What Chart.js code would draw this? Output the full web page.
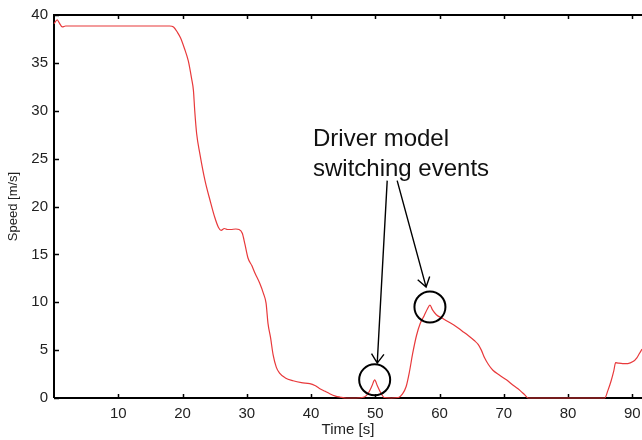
<!DOCTYPE html>
<html>
<head>
<meta charset="utf-8">
<script src="https://cdn.jsdelivr.net/npm/chart.js@4"></script>
<style>
    html, body { margin: 0; padding: 0; background: #fff; }
</style>
</head>
<body>
<canvas id="myChart" width="642" height="440"></canvas>
<script>
let time = [
    0, 0.5, 0.8, 1.3, 1.8, 2.5, 5, 10, 15, 18.0, 18.6, 19.2, 19.7, 20.3, 20.9,
    21.4, 21.7, 21.9, 22.2, 22.7, 23.5, 24.3, 25.0, 25.6, 26.0, 26.5, 27.0, 27.5,
    28.3, 28.8, 29.3, 29.7, 30.2, 30.8, 31.3, 32.0, 32.6, 33.0, 33.3, 33.7, 34.1,
    34.6, 35.1, 36.0, 37.2, 38.5, 39.8, 40.6, 41.3, 42.2, 42.9, 43.8, 44.5, 45.5,
    47.0, 48.3, 48.9, 49.5, 49.9, 50.3, 50.8, 51.4, 52.5, 53.6, 54.2, 54.8, 55.3,
    55.8, 56.4, 57.0, 57.6, 58.1, 58.5, 58.9, 59.5, 60.5, 61.5, 62.5, 63.5, 64.5,
    65.4, 66.0, 66.5, 67.0, 67.6, 68.3, 69.3, 70.4, 71.5, 72.5, 73.3, 73.8, 76,
    80, 85.7, 86.2, 86.7, 87.1, 87.4, 87.8, 88.5, 89.3, 90.1, 90.7, 91.1, 91.5
];

let speed = [
    39.1, 39.5, 39.2, 38.75, 38.85, 38.85, 38.85, 38.85, 38.85, 38.85, 38.75, 38.2, 37.6, 36.5, 35.2,
    33.4, 32.1, 30.0, 27.6, 25.5, 22.7, 20.6, 18.9, 17.8, 17.5, 17.7, 17.6, 17.6,
    17.65, 17.6, 17.2, 16.1, 14.6, 13.8, 13.0, 12.0, 10.9, 9.9, 7.8, 6.3, 4.5,
    3.2, 2.6, 2.1, 1.8, 1.6, 1.5, 1.3, 1.0, 0.7, 0.45, 0.2, 0.1, 0.0,
    0.0, 0.1, 0.5, 1.3, 1.9, 1.3, 0.6, 0.05, 0, 0.05, 0.4, 1.2, 2.7,
    4.6, 6.5, 7.8, 8.6, 9.3, 9.7, 9.2, 8.7, 8.3, 7.9, 7.5, 7.0, 6.5,
    6.0, 5.6, 5.0, 4.2, 3.5, 2.9, 2.4, 1.9, 1.3, 0.8, 0.3, 0.0, 0,
    0, 0, 0.8, 1.8, 2.8, 3.7, 3.65, 3.6, 3.6, 3.8, 4.2, 4.65, 5.1
];

let xTicks = [10, 20, 30, 40, 50, 60, 70, 80, 90];
let yTicks = [0, 5, 10, 15, 20, 25, 30, 35, 40];

// switching events marked on the plot (time, speed)
let events = [[49.9, 1.9], [58.5, 9.5]];
let noteLines = ['Driver model', 'switching events'];

const fontFamily = "'Liberation Sans', Arial, sans-serif";

// axis frame and inward tick marks, drawn under the line
const frame = {
    id: 'frame',
    beforeDatasetsDraw(chart) {
        const {ctx, chartArea: a, scales: {x, y}} = chart;
        ctx.save();
        ctx.strokeStyle = '#000';
        ctx.lineWidth = 2;
        ctx.beginPath();
        ctx.moveTo(a.left, a.bottom);
        ctx.lineTo(a.left, a.top);
        ctx.lineTo(a.right, a.top);
        ctx.moveTo(a.left, a.bottom);
        ctx.lineTo(a.right, a.bottom);
        ctx.stroke();

        ctx.lineWidth = 1.5;
        ctx.beginPath();
        xTicks.forEach(v => {
            const px = Math.round(x.getPixelForValue(v)) + 0.5;
            ctx.moveTo(px, a.bottom);
            ctx.lineTo(px, a.bottom - 4);
            ctx.moveTo(px, a.top);
            ctx.lineTo(px, a.top + 4);
        });
        yTicks.forEach(v => {
            const py = Math.round(y.getPixelForValue(v)) + 0.5;
            ctx.moveTo(a.left, py);
            ctx.lineTo(a.left + 5, py);
        });
        ctx.stroke();
        ctx.restore();
    }
};

function arrow(ctx, x1, y1, x2, y2) {
    const ang = Math.atan2(y2 - y1, x2 - x1);
    const len = 11, spread = 0.6;
    ctx.beginPath();
    ctx.moveTo(x1, y1);
    ctx.lineTo(x2, y2);
    ctx.moveTo(x2 - len * Math.cos(ang - spread), y2 - len * Math.sin(ang - spread));
    ctx.lineTo(x2, y2);
    ctx.lineTo(x2 - len * Math.cos(ang + spread), y2 - len * Math.sin(ang + spread));
    ctx.stroke();
}

// circles, arrows and the note
const notes = {
    id: 'notes',
    afterDraw(chart) {
        const {ctx, scales: {x, y}} = chart;
        ctx.save();
        ctx.strokeStyle = '#000';
        ctx.lineWidth = 2;
        events.forEach(([t, v]) => {
            ctx.beginPath();
            ctx.arc(x.getPixelForValue(t), y.getPixelForValue(v), 15.5, 0, Math.PI * 2);
            ctx.stroke();
        });

        ctx.lineWidth = 1.4;
        arrow(ctx, x.getPixelForValue(51.85), y.getPixelForValue(22.7),
              x.getPixelForValue(50.3), y.getPixelForValue(3.65));
        arrow(ctx, x.getPixelForValue(53.4), y.getPixelForValue(22.7),
              x.getPixelForValue(57.9), y.getPixelForValue(11.6));

        ctx.fillStyle = '#111';
        ctx.font = '24px ' + fontFamily;
        ctx.textBaseline = 'alphabetic';
        const tx = x.getPixelForValue(40.3);
        const ty = y.getPixelForValue(26.35);
        noteLines.forEach((s, i) => ctx.fillText(s, tx, ty + i * 30));
        ctx.restore();
    }
};

let myChart = document.getElementById('myChart').getContext('2d');

let chart = new Chart(myChart, {
    type: 'line',
    data: {
        datasets: [{
            data: time.map((t, i) => ({x: t, y: speed[i]})),
            borderColor: '#e8393b',
            borderWidth: 1.2,
            pointRadius: 0,
            cubicInterpolationMode: 'monotone',
            clip: false
        }]
    },
    options: {
        responsive: false,
        animation: false,
        devicePixelRatio: 1,
        layout: {padding: {top: 14, right: 0, left: 0, bottom: 0}},
        plugins: {
            legend: {display: false},
            tooltip: {enabled: false}
        },
        scales: {
            x: {
                type: 'linear',
                min: 0,
                max: 91.5,
                afterBuildTicks: s => { s.ticks = xTicks.map(v => ({value: v})); },
                afterFit: s => { s.height = 42; s.paddingLeft = 0; s.paddingRight = 0; },
                grid: {display: false, drawTicks: false},
                border: {display: false},
                ticks: {
                    color: '#222',
                    padding: 7,
                    maxRotation: 0,
                    font: {family: fontFamily, size: 15}
                },
                title: {
                    display: true,
                    text: 'Time [s]',
                    color: '#222',
                    padding: {top: 0, bottom: 1},
                    font: {family: fontFamily, size: 15}
                }
            },
            y: {
                min: 0,
                max: 40,
                afterBuildTicks: s => { s.ticks = yTicks.map(v => ({value: v})); },
                afterFit: s => { s.width = 54; },
                grid: {display: false, drawTicks: false},
                border: {display: false},
                ticks: {
                    color: '#222',
                    padding: 6,
                    font: {family: fontFamily, size: 15}
                },
                title: {
                    display: true,
                    text: 'Speed [m/s]',
                    color: '#222',
                    padding: {top: 6, bottom: 0},
                    font: {family: fontFamily, size: 13}
                }
            }
        }
    },
    plugins: [frame, notes]
});
</script>
</body>
</html>
